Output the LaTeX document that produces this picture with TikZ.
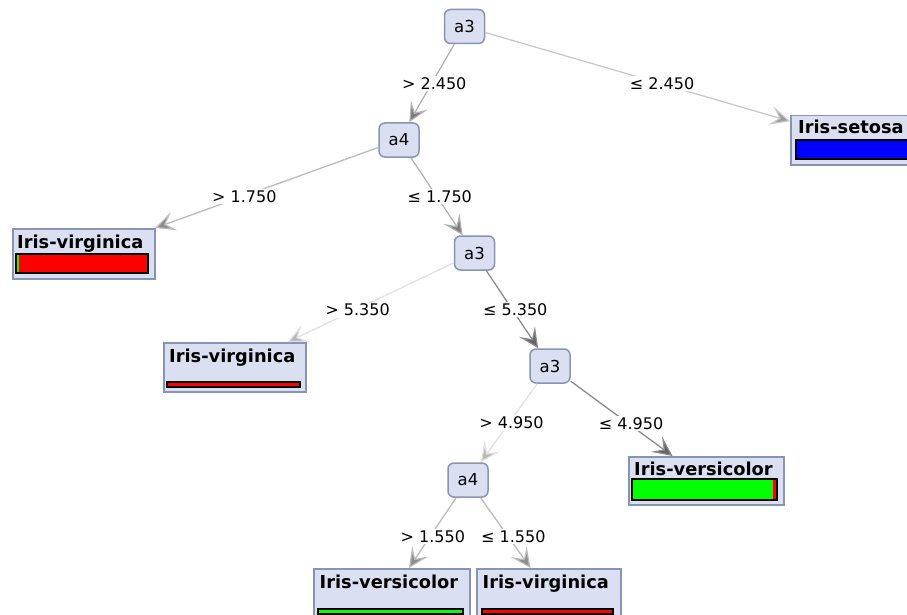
\documentclass[tikz,border=0pt]{standalone}
\usepackage{fontspec}
\setmainfont{DejaVu Sans}
\usetikzlibrary{arrows.meta,calc}

\definecolor{nodefill}{RGB}{218,224,241}
\definecolor{nodeline}{RGB}{136,148,180}
\definecolor{barred}{RGB}{255,0,0}
\definecolor{bargreen}{RGB}{0,255,0}
\definecolor{barblue}{RGB}{0,0,255}
% edge shades: line colour / arrowhead fill
\definecolor{lA}{RGB}{178,178,178}\definecolor{aA}{RGB}{125,125,125}
\definecolor{lB}{RGB}{200,200,200}\definecolor{aB}{RGB}{155,155,155}
\definecolor{lC}{RGB}{187,187,187}\definecolor{aC}{RGB}{140,140,140}
\definecolor{lD}{RGB}{226,226,226}\definecolor{aD}{RGB}{185,185,185}
\definecolor{lE}{RGB}{138,138,138}\definecolor{aE}{RGB}{100,100,100}

\tikzset{
  testnode/.style={draw=nodeline, fill=nodefill, line width=1.5pt,
    rounded corners=6pt, minimum width=40pt, minimum height=34pt,
    inner sep=0pt, font=\fontsize{16.5}{20}\selectfont},
  leafbox/.style={draw=nodeline, fill=nodefill, line width=1.5pt,
    inner sep=0pt, anchor=north west},
  leaftitle/.style={anchor=base west, inner sep=0pt,
    font=\fontsize{17.8}{20}\bfseries\selectfont},
  barframe/.style={draw=black, line width=1.5pt},
  cond/.style={fill=white, inner sep=1.5pt, font=\fontsize{16}{19}\selectfont},
  branch/.style 2 args={draw=#1, line width=1.3pt,
    -{Stealth[length=20pt, width=19pt, inset=9pt, line width=1.2pt, fill=#2]}},
}

\begin{document}
\begin{tikzpicture}[x=1pt, y=-1pt]
\useasboundingbox (0,0) rectangle (907,615);
\clip (0,0) rectangle (907,615);

% split nodes
\node[testnode] (t1) at (464.5,26.5) {a3};
\node[testnode] (t2) at (399,140) {a4};
\node[testnode] (t3) at (474.5,253) {a3};
\node[testnode] (t4) at (550,366) {a3};
\node[testnode] (t5) at (468,480) {a4};

% leaf boxes
\node[leafbox, minimum width=130pt, minimum height=49pt] (setosa) at (790,115) {};
\node[leafbox, minimum width=142pt, minimum height=50pt] (virgA) at (12,228) {};
\node[leafbox, minimum width=142pt, minimum height=49pt] (virgB) at (163,342) {};
\node[leafbox, minimum width=155pt, minimum height=48pt] (versA) at (628,456) {};
\node[leafbox, minimum width=156pt, minimum height=50pt] (versB) at (313,568) {};
\node[leafbox, minimum width=144pt, minimum height=50pt] (virgC) at (476,568) {};

% leaf titles
\node[leaftitle] (setosaT) at (798,134) {Iris-setosa};
\node[leaftitle] (virgAT) at (17,248) {Iris-virginica};
\node[leaftitle] (virgBT) at (169,362) {Iris-virginica};
\node[leaftitle] (versAT) at (634,475) {Iris-versicolor};
\node[leaftitle] (versBT) at (319.5,588) {Iris-versicolor};
\node[leaftitle] (virgCT) at (482.5,588) {Iris-virginica};

% class distribution bars
\fill[barblue] (796,140) rectangle (925,159);
\draw[barframe] (796,140) rectangle (925,159);

\fill[bargreen] (16,254) rectangle (18.5,273);
\fill[barred] (18.5,254) rectangle (148,273);
\draw[barframe] (16,254) rectangle (148,273);

\fill[barred] (167,382) rectangle (300,387);
\draw[barframe] (167,382) rectangle (300,387);

\fill[bargreen] (632,479) rectangle (773,500);
\fill[barred] (773,479) rectangle (777,500);
\draw[barframe] (632,479) rectangle (777,500);

\fill[bargreen] (318,609) rectangle (463,614);
\draw[barframe] (318,609) rectangle (463,614);

\fill[barred] (482,609) rectangle (613,614);
\draw[barframe] (482,609) rectangle (613,614);

% branches
\draw[branch={lB}{aB}] (t1) -- (setosa);
\draw[branch={lA}{aA}] (t1) -- (t2);
\draw[branch={lC}{aC}] (t2) -- (virgA);
\draw[branch={lA}{aA}] (t2) -- (t3);
\draw[branch={lD}{aD}] (t3) -- (virgB);
\draw[branch={lE}{aE}] (t3) -- (t4);
\draw[branch={lD}{aD}] (t4) -- (t5);
\draw[branch={lE}{aE}] (t4) -- (versA);
\draw[branch={lC}{aC}] (t5) -- (versB);
\draw[branch={lC}{aC}] (t5) -- (virgC);

% branch conditions
\node[cond] (c1) at ($(t1)!0.5!(t2)+(2.5,0)$) {> 2.450};
\node[cond] (c2) at ($(t1)!0.5!(setosa)+(2,0)$) {≤ 2.450};
\node[cond] (c3) at ($(t2)!0.5!(virgA)+(3,0)$) {> 1.750};
\node[cond] (c4) at ($(t2)!0.5!(t3)+(3,0)$) {≤ 1.750};
\node[cond] (c5) at ($(t3)!0.5!(virgB)+(3,0)$) {> 5.350};
\node[cond] (c6) at ($(t3)!0.5!(t4)+(3,0)$) {≤ 5.350};
\node[cond] (c7) at ($(t4)!0.5!(t5)+(2.5,0)$) {> 4.950};
\node[cond] (c8) at ($(t4)!0.5!(versA)+(3,0)$) {≤ 4.950};
\node[cond] (c9) at ($(t5)!0.5!(versB)+(3,0)$) {> 1.550};
\node[cond] (c10) at ($(t5)!0.5!(virgC)+(5,0)$) {≤ 1.550};
\end{tikzpicture}
\end{document}
